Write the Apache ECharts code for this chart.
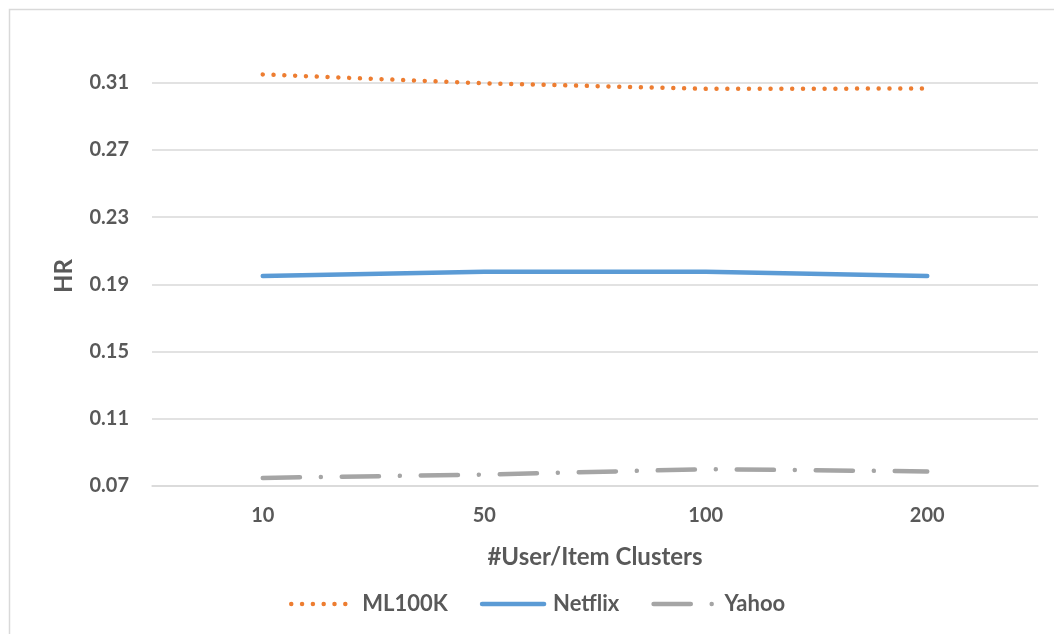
<!DOCTYPE html>
<html>
<head>
<meta charset="utf-8">
<title>HR vs #User/Item Clusters</title>
<script src="https://cdn.jsdelivr.net/npm/echarts@6/dist/echarts.min.js"></script>
<style>
  html, body { margin: 0; padding: 0; background: #ffffff; }
  #chart { width: 1054px; height: 634px; }
</style>
</head>
<body>
<div id="chart"></div>
<script>
// Number of user/item clusters on the x axis
const clusters = ['10', '50', '100', '200'];

// Hit ratio per dataset
const ml100k = [0.3150, 0.3097, 0.3064, 0.3066];
const netflix = [0.1950, 0.1975, 0.1975, 0.1950];
const yahoo = [0.0748, 0.0768, 0.0800, 0.0787];

// Y tick labels
const hrTicks = [0.07, 0.11, 0.15, 0.19, 0.23, 0.27, 0.31];

const FONT = 'Lato, "Open Sans", sans-serif';
const TEXT = '#595959';
const GRID = '#D9D9D9';

// Line styles shared by the plot and the legend keys
const styles = {
  ML100K: { color: '#ED7D31', width: 4.5, type: [0.01, 10.8], cap: 'round' },
  Netflix: { color: '#5B9BD5', width: 4.5, type: 'solid', cap: 'round' },
  Yahoo: { color: '#A5A5A5', width: 4.5, type: [37.2, 20.9, 0.01, 20.9], cap: 'round' }
};

const chart = echarts.init(document.getElementById('chart'), null, { renderer: 'canvas' });

function legendItem(name) {
  const s = styles[name];
  return {
    name: name,
    itemStyle: { opacity: 0 },
    lineStyle: { color: s.color, width: s.width, type: s.type, cap: s.cap }
  };
}

function lineSeries(name, data) {
  const s = styles[name];
  return {
    name: name,
    type: 'line',
    data: data,
    symbol: 'none',
    color: s.color,
    lineStyle: { color: s.color, width: s.width, type: s.type, cap: s.cap }
  };
}

chart.setOption({
  backgroundColor: '#ffffff',
  animation: false,
  textStyle: { fontFamily: FONT },
  graphic: [{
    type: 'rect',
    shape: { x: 9.5, y: 9.5, width: 1100, height: 700 },
    style: { fill: 'none', stroke: GRID, lineWidth: 1.5 },
    silent: true,
    z: -1
  }],
  grid: { left: 152, right: 16, top: 66, bottom: 148 },
  legend: {
    left: 284,
    top: 588,
    itemWidth: 62,
    itemHeight: 14,
    itemGap: 32,
    textStyle: { fontFamily: FONT, fontWeight: 'bold', fontSize: 22, color: TEXT, padding: [0, 0, 0, 4] },
    data: ['ML100K', 'Netflix', 'Yahoo'].map(legendItem)
  },
  xAxis: {
    type: 'category',
    data: clusters,
    boundaryGap: true,
    name: '#User/Item Clusters',
    nameLocation: 'middle',
    nameGap: 59,
    nameTextStyle: { fontFamily: FONT, fontWeight: 'bold', fontSize: 24, color: TEXT },
    axisLine: { show: true, lineStyle: { color: GRID, width: 1.5 } },
    axisTick: { show: false },
    axisLabel: { fontFamily: FONT, fontWeight: 'bold', fontSize: 20, color: TEXT, margin: 20 }
  },
  yAxis: {
    type: 'value',
    min: 0.07,
    max: 0.32,
    name: 'HR',
    nameLocation: 'middle',
    nameGap: 76,
    nameTextStyle: { fontFamily: FONT, fontWeight: 'bold', fontSize: 24, color: TEXT },
    axisLine: { show: false },
    axisTick: { show: false, customValues: hrTicks },
    axisLabel: {
      customValues: hrTicks,
      fontFamily: FONT, fontWeight: 'bold', fontSize: 20, color: TEXT, margin: 23,
      formatter: v => v.toFixed(2)
    },
    splitLine: { show: true, lineStyle: { color: GRID, width: 1.5 } }
  },
  series: [
    lineSeries('ML100K', ml100k),
    lineSeries('Netflix', netflix),
    lineSeries('Yahoo', yahoo)
  ]
});
</script>
</body>
</html>
